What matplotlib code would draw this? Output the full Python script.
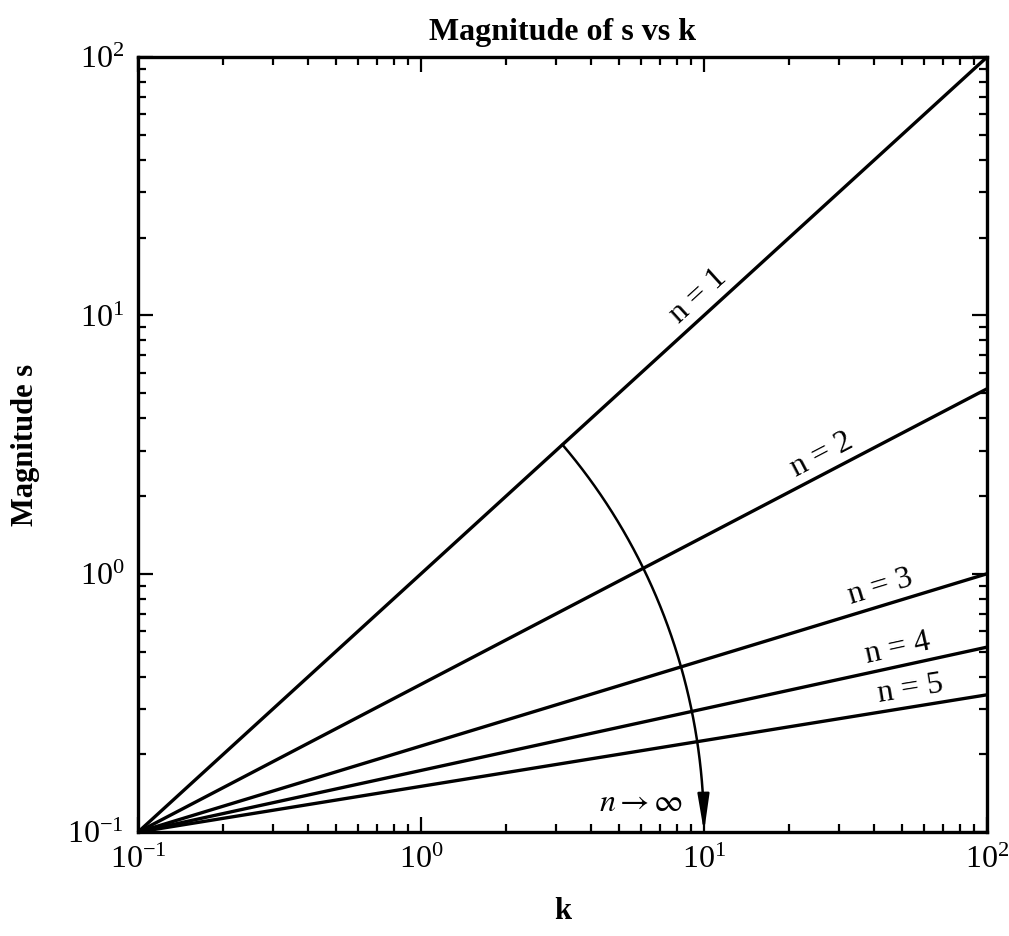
import matplotlib
matplotlib.use('Agg')
import matplotlib.pyplot as plt
import numpy as np

plt.rcParams['font.family'] = ['Liberation Serif', 'DejaVu Serif']
plt.rcParams['mathtext.fontset'] = 'stix'

# data: straight lines in log-log space
k_ends = [0.1, 100]
n_values = [1, 2, 3, 4, 5]
s_start = [0.1, 0.1, 0.1, 0.1, 0.1]
s_end = [100, 5.2, 1.0, 0.52, 0.34]
label_k = [10.5, 28, 44, 50, 55]

# the "n -> inf" arc, from the n=1 line down to the k axis
arc_start = (3.16, 3.16)
arc_end = (10, 0.1)

fig = plt.figure(figsize=(10.09, 9.36), dpi=100)
ax = fig.add_axes([0.1368, 0.111, 0.8414, 0.828])
ax.set_xscale('log')
ax.set_yscale('log')
ax.set_xlim(0.1, 100)
ax.set_ylim(0.1, 100)

for n, s0, s1 in zip(n_values, s_start, s_end):
    ax.plot(k_ends, [s0, s1], color='black', lw=2.4, solid_capstyle='butt')

# arc: ellipse in log space centred on the lower-left corner
lx0, ly0 = np.log10(k_ends[0]), np.log10(s_start[0])
sx = np.log10(arc_start[0]) - lx0
sy = np.log10(arc_start[1]) - ly0
a = np.log10(arc_end[0]) - lx0
th0 = np.arccos(sx / a)
b = sy / np.sin(th0)
th = np.linspace(th0, 0.0, 200)
arc_x = 10 ** (lx0 + a * np.cos(th))
arc_y = 10 ** (ly0 + b * np.sin(th))
ax.plot(arc_x[:-8], arc_y[:-8], color='black', lw=1.8)
ax.annotate('', xy=(arc_x[-1], arc_y[-1]), xytext=(arc_x[-9], arc_y[-9]),
            arrowprops=dict(arrowstyle='-|>,head_length=1.6,head_width=0.25',
                            color='black', lw=1.8, shrinkA=0, shrinkB=0,
                            mutation_scale=14))
ax.text(6.0, 0.113, r'$n \rightarrow \infty$', fontsize=23, ha='center', va='bottom')

# line labels, rotated along each line
fig.canvas.draw()
for n, s0, s1, kl in zip(n_values, s_start, s_end, label_k):
    p0 = ax.transData.transform((k_ends[0], s0))
    p1 = ax.transData.transform((k_ends[1], s1))
    ang = np.degrees(np.arctan2(p1[1] - p0[1], p1[0] - p0[0]))
    frac = (np.log10(kl) - np.log10(k_ends[0])) / (np.log10(k_ends[1]) - np.log10(k_ends[0]))
    sl = 10 ** (np.log10(s0) + frac * (np.log10(s1) - np.log10(s0)))
    off = 2.5
    dx = -off * np.sin(np.radians(ang))
    dy = off * np.cos(np.radians(ang))
    ax.annotate('n = %d' % n, xy=(kl, sl), xytext=(dx, dy), textcoords='offset points',
                rotation=ang, rotation_mode='anchor', ha='center', va='bottom',
                fontsize=23)

ax.tick_params(which='both', direction='in', top=True, right=True, width=1.6)
ax.tick_params(which='major', length=11, labelsize=23, pad=10)
ax.tick_params(which='minor', length=6)
for sp in ax.spines.values():
    sp.set_linewidth(2.4)

ax.set_title('Magnitude of s vs k', fontsize=23, fontweight='bold', pad=12)
ax.set_xlabel('k', fontsize=22, fontweight='bold', labelpad=16)
ax.set_ylabel('Magnitude s', fontsize=22, fontweight='bold', labelpad=20)

fig.savefig('out.png', dpi=100)
